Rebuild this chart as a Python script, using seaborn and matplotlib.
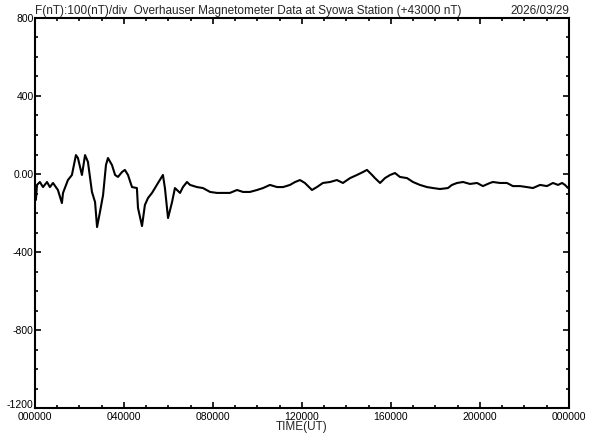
#!/usr/bin/env python3
import matplotlib
matplotlib.use("Agg")
import matplotlib.pyplot as plt
from matplotlib.ticker import MultipleLocator, FixedLocator, FixedFormatter
import pandas as pd
import seaborn as sns

# Time of day in hours (UT) and total field offset from 43000 nT
hours = [0.04, 0.09, 0.22, 0.36, 0.54, 0.67, 0.81, 1.03, 1.21, 1.26, 1.48, 1.66,
         1.84, 1.93, 2.11, 2.25, 2.38, 2.56, 2.70, 2.79, 2.92, 3.06, 3.19, 3.28,
         3.46, 3.60, 3.73, 3.91, 4.04, 4.18, 4.36, 4.58, 4.63, 4.81, 4.94, 5.08,
         5.26, 5.53, 5.75, 5.84, 5.98, 6.16, 6.29, 6.52, 6.65, 6.83, 6.97, 7.28,
         7.55, 7.87, 8.18, 8.45, 8.76, 9.08, 9.35, 9.66, 9.98, 10.25, 10.56, 10.88,
         11.15, 11.46, 11.69, 11.91, 12.13, 12.45, 12.67, 12.94, 13.26, 13.57, 13.84,
         14.16, 14.47, 14.74, 14.92, 15.15, 15.28, 15.51, 15.73, 15.96, 16.18, 16.40,
         16.72, 16.99, 17.30, 17.62, 17.89, 18.20, 18.56, 18.74, 18.97, 19.24, 19.55,
         19.87, 20.13, 20.45, 20.58, 20.90, 21.21, 21.48, 21.80, 22.11, 22.38, 22.70,
         23.01, 23.28, 23.51, 23.69, 23.82, 23.96]
field = [-133, -56, -41, -67, -41, -67, -46, -82, -149, -97, -31, -5,
         97, 82, -5, 97, 62, -92, -144, -272, -195, -108, 46, 82,
         46, -5, -15, 10, 21, -5, -67, -72, -174, -267, -159, -123,
         -97, -46, -5, -72, -226, -144, -72, -97, -67, -41, -56, -67,
         -72, -92, -97, -97, -97, -82, -92, -92, -82, -72, -56, -67,
         -67, -56, -41, -31, -46, -82, -67, -46, -41, -31, -46,
         -21, -5, 10, 21, -5, -21, -46, -21, -5, 5, -15,
         -21, -41, -56, -67, -72, -77, -72, -56, -46, -41, -51,
         -46, -62, -46, -41, -46, -46, -62, -62, -67, -72, -56,
         -62, -46, -56, -46, -56, -72]

xticks = [0, 4, 8, 12, 16, 20, 24]
xlabels = ["000000", "040000", "080000", "120000", "160000", "200000", "000000"]
yticks = [-1200, -800, -400, 0, 400, 800]
ylabels = ["-1200", "-800", "-400", "0.00", "400", "800"]

title = "F(nT):100(nT)/div  Overhauser Magnetometer Data at Syowa Station (+43000 nT)"
date = "2026/03/29"

sns.set_style("ticks")
plt.rcParams["font.family"] = ["Liberation Sans", "DejaVu Sans"]

df = pd.DataFrame({"hour": hours, "F": field})

fig = plt.figure(figsize=(5.92, 4.40), dpi=100)
ax = fig.add_axes([0.0591, 0.0727, 0.902, 0.8864])

sns.lineplot(data=df, x="hour", y="F", ax=ax, color="black", linewidth=1.5)

ax.set_xlim(0, 24)
ax.set_ylim(-1200, 800)
ax.xaxis.set_major_locator(FixedLocator(xticks))
ax.xaxis.set_major_formatter(FixedFormatter(xlabels))
ax.xaxis.set_minor_locator(MultipleLocator(1))
ax.yaxis.set_major_locator(FixedLocator(yticks))
ax.yaxis.set_major_formatter(FixedFormatter(ylabels))
ax.yaxis.set_minor_locator(MultipleLocator(100))

ax.tick_params(which="both", direction="in", top=True, right=True,
               width=1.2, colors="black", labelsize=7.5)
ax.tick_params(axis="y", pad=1)
ax.tick_params(axis="x", pad=3)
ax.tick_params(which="major", length=4)
ax.tick_params(which="minor", length=2.5)
for s in ax.spines.values():
    s.set_linewidth(1.5)
    s.set_color("black")

# bottom y label sits a little above its tick, clear of the first time label
fig.canvas.draw()
ax.get_yticklabels()[0].set_verticalalignment("baseline")

ax.set_xlabel("TIME(UT)", fontsize=8.5, labelpad=-1)
ax.set_ylabel("")
ax.text(0.0, 1.003, title, transform=ax.transAxes, ha="left", va="bottom", fontsize=8.5)
ax.text(1.0, 1.003, date, transform=ax.transAxes, ha="right", va="bottom", fontsize=8.5)

fig.savefig("out.png", dpi=100, facecolor="white")
